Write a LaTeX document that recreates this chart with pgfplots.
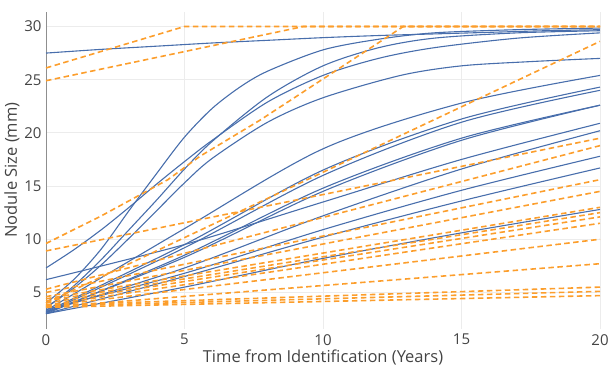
\documentclass[border=0pt]{standalone}
\usepackage{fontspec}
\setmainfont{Open Sans}
\usepackage{pgfplots}
\pgfplotsset{compat=1.18}
\definecolor{bl}{RGB}{72,110,172}
\definecolor{og}{RGB}{252,158,44}
\definecolor{grd}{RGB}{236,236,236}
\definecolor{txt}{RGB}{68,68,68}
\begin{document}
\begin{tikzpicture}
\begin{axis}[
  scale only axis, width=554pt, height=317pt,
  xmin=0, xmax=20, ymin=1.6, ymax=31.4,
  axis x line*=bottom, axis y line*=left,
  x axis line style={draw=none},
  y axis line style={draw=txt!60, line width=0.9pt, -},
  xtick={0,5,10,15,20}, ytick={5,10,15,20,25,30},
  major tick length=0pt,
  grid=major, grid style={grd, line width=0.8pt},
  /pgf/number format/assume math mode=true,
  tick label style={font=\fontsize{15}{17}\selectfont, text=txt},
  xticklabel style={yshift=-2pt},
  yticklabel style={xshift=-1pt},
  xlabel={Time from Identification (Years)},
  ylabel={Nodule Size (mm)},
  label style={font=\fontsize{16.5}{19}\selectfont, text=txt},
  xlabel style={yshift=2pt},
  ylabel style={yshift=-2pt},
  clip=true,
  blue/.style={bl, line width=1.1pt, smooth, no marks},
  orng/.style={og, line width=1.6pt, dash pattern=on 5.5pt off 3.5pt, no marks},
]
% blue growth curves
\addplot[blue] coordinates {(0,4.0)(1,6.2)(2,9.1)(3,12.7)(4,16.2)(5,19.6)(6,22.3)(7,24.3)(8,25.8)(10,27.8)(12,28.8)(14,29.4)(17,29.7)(20,29.85)};
\addplot[blue] coordinates {(0,27.5)(2,27.85)(4,28.15)(6,28.45)(8,28.7)(10,28.95)(12,29.15)(14,29.3)(16,29.45)(18,29.6)(20,29.7)};
\addplot[blue] coordinates {(0,7.3)(1,9.0)(2,10.9)(3,13.0)(4,15.2)(5,17.3)(6,19.3)(8,22.9)(10,25.4)(12,27.0)(14,28.0)(17,28.9)(20,29.4)};
\addplot[blue] coordinates {(0,3.5)(1,5.6)(2,8.1)(3,10.9)(4,13.7)(5,16.6)(6,19.2)(8,23.4)(10,26.3)(12,28.0)(14,28.9)(17,29.4)(20,29.6)};
\addplot[blue] coordinates {(0,3.6)(1,5.4)(2,7.6)(3,10.1)(4,12.7)(5,15.3)(6,17.6)(8,21.0)(10,23.3)(12.8,25.4)(15,26.3)(17.5,26.7)(20,27.0)};
\addplot[blue] coordinates {(0,3.3)(5,11.0)(10,18.5)(15,22.8)(20,25.4)};
\addplot[blue] coordinates {(0,3.2)(5,9.5)(10,16.5)(15,21.3)(20,24.3)};
\addplot[blue] coordinates {(0,3.1)(5,9.2)(10,16.0)(15,21.0)(20,24.0)};
\addplot[blue] coordinates {(0,3.0)(5,8.5)(10,14.8)(15,19.5)(20,22.6)};
\addplot[blue] coordinates {(0,3.1)(5,8.3)(10,14.5)(15,19.3)(20,22.6)};
\addplot[blue] coordinates {(0,6.2)(5,9.5)(10,13.5)(15,17.5)(20,20.9)};
\addplot[blue] coordinates {(0,3.2)(5,7.3)(10,12.2)(15,16.6)(20,20.2)};
\addplot[blue] coordinates {(0,3.4)(5,6.8)(10,10.9)(15,14.6)(20,17.8)};
\addplot[blue] coordinates {(0,3.0)(5,6.5)(10,10.2)(15,13.6)(20,16.7)};
\addplot[blue] coordinates {(0,3.0)(5,5.5)(10,8.2)(15,10.6)(20,12.8)};
% orange dashed lines
\addplot[orng] coordinates {(0,26.1)(5,30)(20,30)};
\addplot[orng] coordinates {(0,24.9)(9.3,30)(20,30)};
\addplot[orng] coordinates {(0,9.6)(2,12.2)(4.4,15.6)(5.56,17.8)(7.73,21.2)(12.9,30)(20,30)};
\addplot[orng] coordinates {(0,4.0)(20,28.6)};
\addplot[orng] coordinates {(0,8.9)(20,19.5)};
\addplot[orng] coordinates {(0,5.3)(20,18.8)};
\addplot[orng] coordinates {(0,5.0)(20,15.6)};
\addplot[orng] coordinates {(0,4.6)(20,14.5)};
\addplot[orng] coordinates {(0,4.4)(20,13.0)};
\addplot[orng] coordinates {(0,4.2)(20,12.5)};
\addplot[orng] coordinates {(0,4.0)(20,12.1)};
\addplot[orng] coordinates {(0,3.8)(20,11.5)};
\addplot[orng] coordinates {(0,3.7)(20,10.0)};
\addplot[orng] coordinates {(0,3.6)(20,7.7)};
\addplot[orng] coordinates {(0,3.8)(20,5.5)};
\addplot[orng] coordinates {(0,3.7)(20,5.1)};
\addplot[orng] coordinates {(0,3.6)(20,4.7)};
\end{axis}
\pgfresetboundingbox
\path ([shift={(-46pt,-42pt)}]current axis.south west) rectangle ([shift={(11pt,11.6pt)}]current axis.north east);
\end{tikzpicture}
\end{document}
